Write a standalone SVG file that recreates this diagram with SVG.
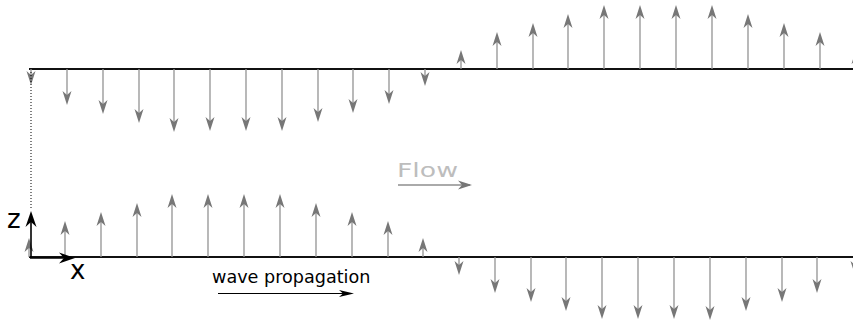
<svg xmlns="http://www.w3.org/2000/svg" width="853" height="323" viewBox="0 0 853 323">
<style>
.wall{stroke:#111;stroke-width:2;fill:none}
.g{stroke:#939393;stroke-width:1.3;fill:none;marker-end:url(#gh)}
.ax{stroke:#000;stroke-width:1.6;fill:none;marker-end:url(#bh)}
.lbl{font-family:"DejaVu Sans",sans-serif;fill:#000}
</style>
<defs>
<marker id="gh" markerUnits="userSpaceOnUse" viewBox="-15 -6 16 12" refX="-3" refY="0" markerWidth="16" markerHeight="12" orient="auto">
<path d="M0,0 L-14,-4.5 L-10,0 L-14,4.5 Z" fill="#777"/>
</marker>
<marker id="bh" markerUnits="userSpaceOnUse" viewBox="-17 -7 18 14" refX="-3" refY="0" markerWidth="18" markerHeight="14" orient="auto">
<path d="M0,0 L-16,-5.5 L-11,0 L-16,5.5 Z" fill="#000"/>
</marker>
<marker id="wh" markerUnits="userSpaceOnUse" viewBox="-16 -5 17 10" refX="-2" refY="0" markerWidth="17" markerHeight="10" orient="auto">
<path d="M0,0 L-15,-3.5 L-11,0 L-15,3.5 Z" fill="#000"/>
</marker>
<marker id="fh" markerUnits="userSpaceOnUse" viewBox="-16 -6 17 12" refX="-2" refY="0" markerWidth="17" markerHeight="12" orient="auto">
<path d="M0,0 L-14,-4.5 L-10,0 L-14,4.5 Z" fill="#777"/>
</marker>
</defs>
<rect width="853" height="323" fill="#fff"/>
<g id="walls">
<line class="wall" x1="29" y1="69" x2="853" y2="69"/>
<line class="wall" x1="29" y1="257" x2="853" y2="257"/>
</g>
<g id="connectors">
<g id="top-left">
<line class="g" x1="31" y1="69" x2="31" y2="82"/>
<line class="g" x1="67" y1="69" x2="67" y2="102"/>
<line class="g" x1="103" y1="69" x2="103" y2="111"/>
<line class="g" x1="139" y1="69" x2="139" y2="120"/>
<line class="g" x1="174" y1="69" x2="174" y2="129"/>
<line class="g" x1="210" y1="69" x2="210" y2="128"/>
<line class="g" x1="246" y1="69" x2="246" y2="128"/>
<line class="g" x1="282" y1="69" x2="282" y2="128"/>
<line class="g" x1="318" y1="69" x2="318" y2="119"/>
<line class="g" x1="353" y1="69" x2="353" y2="110"/>
<line class="g" x1="389" y1="69" x2="389" y2="101"/>
<line class="g" x1="425" y1="69" x2="425" y2="83"/>
</g>
<g id="bottom-left">
<line class="g" x1="29" y1="257" x2="29" y2="241"/>
<line class="g" x1="65" y1="257" x2="65" y2="224"/>
<line class="g" x1="101" y1="257" x2="101" y2="215"/>
<line class="g" x1="137" y1="257" x2="137" y2="206"/>
<line class="g" x1="172" y1="257" x2="172" y2="197"/>
<line class="g" x1="208" y1="257" x2="208" y2="197"/>
<line class="g" x1="244" y1="257" x2="244" y2="197"/>
<line class="g" x1="280" y1="257" x2="280" y2="197"/>
<line class="g" x1="316" y1="257" x2="316" y2="206"/>
<line class="g" x1="352" y1="257" x2="352" y2="215"/>
<line class="g" x1="388" y1="257" x2="388" y2="224"/>
<line class="g" x1="423" y1="257" x2="423" y2="241"/>
</g>
<g id="top-right">
<line class="g" x1="461" y1="69" x2="461" y2="53"/>
<line class="g" x1="497" y1="69" x2="497" y2="35"/>
<line class="g" x1="533" y1="69" x2="533" y2="26"/>
<line class="g" x1="568" y1="69" x2="568" y2="17"/>
<line class="g" x1="604" y1="69" x2="604" y2="8"/>
<line class="g" x1="640" y1="69" x2="640" y2="8"/>
<line class="g" x1="676" y1="69" x2="676" y2="8"/>
<line class="g" x1="712" y1="69" x2="712" y2="8"/>
<line class="g" x1="748" y1="69" x2="748" y2="17"/>
<line class="g" x1="784" y1="69" x2="784" y2="26"/>
<line class="g" x1="820" y1="69" x2="820" y2="35"/>
<line class="g" x1="856" y1="69" x2="856" y2="53"/>
</g>
<g id="bottom-right">
<line class="g" x1="459" y1="257" x2="459" y2="272"/>
<line class="g" x1="495" y1="257" x2="495" y2="290"/>
<line class="g" x1="531" y1="257" x2="531" y2="299"/>
<line class="g" x1="566" y1="257" x2="566" y2="308"/>
<line class="g" x1="602" y1="257" x2="602" y2="316"/>
<line class="g" x1="638" y1="257" x2="638" y2="316"/>
<line class="g" x1="674" y1="257" x2="674" y2="316"/>
<line class="g" x1="710" y1="257" x2="710" y2="317"/>
<line class="g" x1="746" y1="257" x2="746" y2="308"/>
<line class="g" x1="782" y1="257" x2="782" y2="299"/>
<line class="g" x1="817" y1="257" x2="817" y2="290"/>
<line class="g" x1="855" y1="257" x2="855" y2="272"/>
</g>
<line id="dotted" x1="31" y1="72" x2="31" y2="210" stroke="#000" stroke-width="1" stroke-dasharray="1,2"/>
<line id="z-axis" class="ax" x1="31" y1="257" x2="31" y2="214"/>
<line id="x-axis" class="ax" x1="30" y1="258" x2="72" y2="258"/>
<line id="flow-arrow" x1="398" y1="185" x2="470" y2="185" stroke="#8e8e8e" stroke-width="1.3" marker-end="url(#fh)"/>
<line id="wave-arrow" x1="218" y1="293.5" x2="352" y2="293.5" stroke="#000" stroke-width="1.1" marker-end="url(#wh)"/>
</g>
<g id="labels">
<text id="z-label" class="lbl" x="7" y="228" font-size="26">z</text>
<text id="x-label" class="lbl" x="70" y="279" font-size="26">x</text>
<text id="flow-label" x="397" y="177" font-family="DejaVu Sans, sans-serif" font-size="20" fill="#bdbdbd" textLength="61" lengthAdjust="spacingAndGlyphs">Flow</text>
<text id="wave-label" class="lbl" x="212" y="283" font-size="17.6">wave propagation</text>
</g>
</svg>
